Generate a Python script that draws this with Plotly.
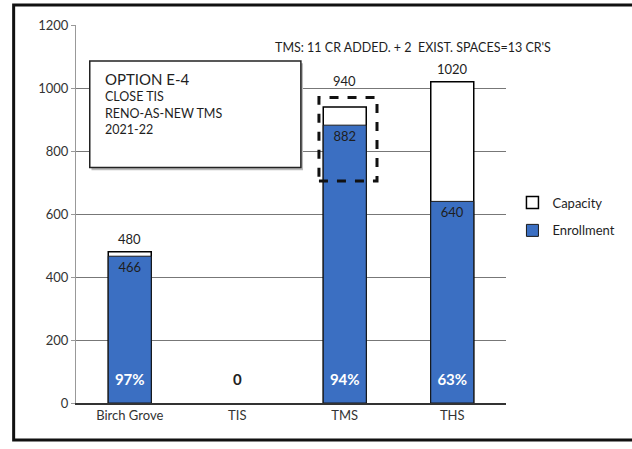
import plotly.graph_objects as go

schools = ["Birch Grove", "TIS", "TMS", "THS"]
capacity = [480, 0, 940, 1020]
enrollment = [466, 0, 882, 640]
capacity_labels = ["480", "", "940", "1020"]
enrollment_labels = ["466", "", "882", "640"]
utilization_labels = ["97%", "0", "94%", "63%"]
y_ticks = [0, 200, 400, 600, 800, 1000, 1200]

BLUE = "#3b6fc2"
FONT = "Lato"

fig = go.Figure()

fig.add_trace(
    go.Bar(
        x=schools,
        y=capacity,
        name="Capacity",
        legendgroup="cap",
        marker=dict(color="white",
                    line=dict(color="black", width=[1.5 if v else 0 for v in capacity])),
        width=0.4,
    )
)

fig.add_trace(
    go.Bar(
        x=schools,
        y=enrollment,
        name="Enrollment",
        legendgroup="enr",
        marker=dict(color=BLUE,
                    line=dict(color="#1a1a1a", width=[1 if v else 0 for v in enrollment])),
        width=0.4,
        text=enrollment_labels,
        textposition="inside",
        insidetextanchor="end",
        textangle=0,
        textfont=dict(family=FONT, size=13, color="#1e1e1e"),
    )
)

# utilization % near the bottom of each bar
fig.add_trace(
    go.Scatter(
        x=schools,
        y=[68] * len(schools),
        mode="text",
        text=utilization_labels,
        textfont=dict(family=FONT, size=15, weight="bold",
                      color=["white", "#222", "white", "white"]),
        showlegend=False,
        hoverinfo="skip",
    )
)

# capacity labels above the bars (TMS one sits above the dashed box)
for school, cap, label in zip(schools, capacity, capacity_labels):
    if not label:
        continue
    fig.add_annotation(
        x=school, y=cap, text=label, showarrow=False,
        yanchor="bottom", yshift=16 if school == "TMS" else 3,
        font=dict(family=FONT, size=13, color="#1e1e1e"),
    )

# dashed box around the TMS addition
fig.add_shape(
    type="rect", xref="x", yref="y",
    x0=1.76, x1=2.3, y0=705, y1=970,
    line=dict(color="#111", width=3, dash="dash"),
    fillcolor="rgba(0,0,0,0)",
)

# option text box (with a faint shadow)
fig.add_shape(
    type="rect", xref="paper", yref="paper",
    x0=0.036, x1=0.528, y0=0.616, y1=0.899,
    line=dict(color="rgba(0,0,0,0)", width=0),
    fillcolor="#bbb",
)
fig.add_shape(
    type="rect", xref="paper", yref="paper",
    x0=0.032, x1=0.523, y0=0.623, y1=0.905,
    line=dict(color="#222", width=1.5),
    fillcolor="white",
)
fig.add_annotation(
    xref="paper", yref="paper", x=0.062, y=0.885,
    xanchor="left", yanchor="top", align="left", showarrow=False,
    text="<span style='font-size:15px'>OPTION E-4</span><br>CLOSE TIS<br>RENO-AS-NEW TMS<br>2021-22",
    font=dict(family=FONT, size=12.5, color="#1e1e1e"),
)

fig.add_annotation(
    xref="paper", yref="paper", x=0.458, y=0.94,
    xanchor="left", yanchor="middle", showarrow=False,
    text="TMS: 11 CR ADDED. + 2  EXIST. SPACES=13 CR'S",
    font=dict(family=FONT, size=12.5, color="#1e1e1e"),
)

# outer frame (right edge runs off the picture)
fig.add_shape(
    type="rect", xref="paper", yref="paper",
    x0=-0.145, x1=1.33, y0=-0.098, y1=1.053,
    line=dict(color="#111", width=3),
)

fig.update_layout(
    width=632,
    height=449,
    margin=dict(l=76, r=124, t=25, b=46),
    barmode="overlay",
    paper_bgcolor="white",
    plot_bgcolor="white",
    font=dict(family=FONT, size=13, color="#333"),
    showlegend=True,
    legend=dict(
        x=1.015, y=0.57, xanchor="left", yanchor="top",
        font=dict(family=FONT, size=13, color="#1e1e1e"),
        tracegroupgap=8,
        bgcolor="rgba(0,0,0,0)",
    ),
    xaxis=dict(
        showgrid=False,
        showline=True,
        linecolor="#333",
        linewidth=1.5,
        ticks="",
        tickfont=dict(family=FONT, size=13, color="#333"),
    ),
    yaxis=dict(
        range=[0, 1200],
        tickvals=y_ticks,
        showgrid=True,
        gridcolor="#777",
        gridwidth=1,
        zeroline=False,
        showline=True,
        linecolor="#999",
        ticks="outside",
        ticklen=4,
        tickcolor="#999",
        tickfont=dict(family=FONT, size=13, color="#333"),
    ),
)

fig.write_html("out.html", config={"displayModeBar": False},
               post_script="document.body.style.margin='0';")
